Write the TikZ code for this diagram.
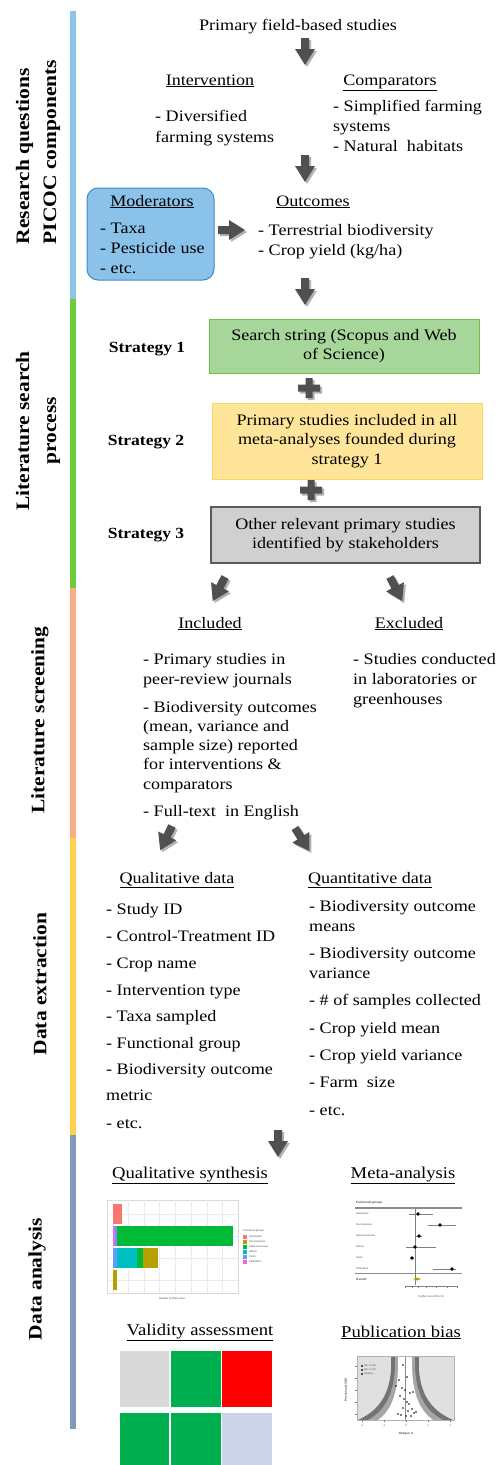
\documentclass[tikz,border=0pt]{standalone}
\usepackage{fontspec}
\setmainfont{Liberation Serif}[FakeStretch=1.13]
\setsansfont{Liberation Sans}
\usetikzlibrary{shadows}
\definecolor{barA}{HTML}{8FC4EA}
\definecolor{barB}{HTML}{6CCC3E}
\definecolor{barC}{HTML}{F8AE86}
\definecolor{barD}{HTML}{FFD24E}
\definecolor{barE}{HTML}{7F9BB8}
\definecolor{modfill}{HTML}{8BC2EA}
\definecolor{moddraw}{HTML}{3F8BCB}
\definecolor{gfill}{HTML}{A7D69B}
\definecolor{gdraw}{HTML}{6CBF47}
\definecolor{yfill}{HTML}{FFE59A}
\definecolor{ydraw}{HTML}{FFD55E}
\definecolor{kfill}{HTML}{D0D0D0}
\definecolor{kdraw}{HTML}{5A5A5A}
\definecolor{arrgray}{HTML}{505050}
\definecolor{ggred}{HTML}{F8766D}
\definecolor{ggolive}{HTML}{B79F00}
\definecolor{gggreen}{HTML}{00BA38}
\definecolor{ggcyan}{HTML}{00BFC4}
\definecolor{ggblue}{HTML}{619CFF}
\definecolor{ggmag}{HTML}{F564E3}
\definecolor{vgrey}{HTML}{D9D9D9}
\definecolor{vgreen}{HTML}{00B050}
\definecolor{vred}{HTML}{FF0000}
\definecolor{vlav}{HTML}{CDD3E8}
\tikzset{
  txt/.style={anchor=base west, inner sep=0pt, font=\fontsize{16}{17}\selectfont},
  ctxt/.style={anchor=base, inner sep=0pt, font=\fontsize{16}{17}\selectfont},
  bighead/.style={anchor=base, inner sep=0pt, font=\fontsize{16.5}{18}\selectfont},
  strat/.style={anchor=base, inner sep=0pt, font=\bfseries\fontsize{15.5}{17}\selectfont},
  boxtxt/.style={align=center, inner sep=0pt, font=\fontsize{16}{19.5}\selectfont},
  side/.style={rotate=90, inner sep=0pt, font=\bfseries\fontsize{19}{27}\selectfont},
  tinytxt/.style={inner sep=0pt, font=\sffamily\fontsize{2.6}{3}\selectfont, text=black!70},
  arr/.style={fill=arrgray, drop shadow={shadow xshift=2pt, shadow yshift=-2pt, opacity=0.3, fill=black}},
  downarr/.pic={\path[arr] (-4,0) -- (-4,11) -- (-10,11) -- (0,27) -- (10,11) -- (4,11) -- (4,0) -- cycle;},
  plussign/.pic={\path[arr] (-3.5,-10) -- (3.5,-10) -- (3.5,-3.5) -- (11,-3.5) -- (11,3.5) -- (3.5,3.5) -- (3.5,10) -- (-3.5,10) -- (-3.5,3.5) -- (-11,3.5) -- (-11,-3.5) -- (-3.5,-3.5) -- cycle;}
}
\begin{document}
\begin{tikzpicture}[x=1pt,y=-1pt]
\useasboundingbox[fill=white] (0,0) rectangle (501,1465);
% side bars
\fill[barA] (70,11) rectangle (76,299);
\fill[barB] (70,299) rectangle (76,588);
\fill[barC] (70,588) rectangle (76,838);
\fill[barD] (70,838) rectangle (76,1135);
\fill[barE] (70,1135) rectangle (76,1429);
\node[side, align=left] (lab1) at (38,152) {Research questions\\PICOC components};
\node[side, align=center] (lab2) at (38,431) {Literature search\\process};
\node[side] (lab3) at (40,720) {Literature screening};
\node[side] (lab4) at (40,984) {Data extraction};
\node[side] (lab5) at (37,1279) {Data analysis};
% research questions
\node[ctxt] (primary) at (298,30) {Primary field-based studies};
\pic at (305,38) {downarr};
\node[ctxt] (interv) at (210,85) {\underline{Intervention}};
\node[ctxt] (compar) at (390,85) {\underline{Comparators}};
\node[txt] (int1) at (155,121) {- Diversified};
\node[txt] (int2) at (155,142) {farming systems};
\node[txt] (cmp1) at (333,111) {- Simplified farming};
\node[txt] (cmp2) at (333,131) {systems};
\node[txt] (cmp3) at (333,151) {- Natural\ \ habitats};
\pic at (305,155) {downarr};
\node[draw=moddraw, fill=modfill, line width=1pt, rounded corners=11pt, minimum width=127pt, minimum height=92pt] (mod) at (150.5,234) {};
\node[ctxt] (modh) at (152,206) {\underline{Moderators}};
\node[txt] (mod1) at (100,233) {- Taxa};
\node[txt] (mod2) at (100,253) {- Pesticide use};
\node[txt] (mod3) at (100,273) {- etc.};
\pic[rotate=90] at (218,230) {downarr};
\node[ctxt] (outc) at (313,206) {\underline{Outcomes}};
\node[txt] (out1) at (258,235) {- Terrestrial biodiversity};
\node[txt] (out2) at (258,255) {- Crop yield (kg/ha)};
\pic at (305,278) {downarr};
% literature search
\node[boxtxt, draw=gdraw, fill=gfill, line width=1pt, minimum width=270pt, minimum height=54pt] (s1) at (344,346) {Search string (Scopus and Web\\of Science)};
\node[strat] (st1) at (147,352) {Strategy 1};
\pic at (309,388) {plussign};
\node[boxtxt, draw=ydraw, fill=yfill, line width=1pt, minimum width=270pt, minimum height=76pt] (s2) at (347,441) {Primary studies included in all\\meta-analyses founded during\\strategy 1};
\node[strat] (st2) at (146,445) {Strategy 2};
\pic at (311,490) {plussign};
\node[boxtxt, draw=kdraw, fill=kfill, line width=1.3pt, minimum width=269pt, minimum height=56pt] (s3) at (345.5,535) {Other relevant primary studies\\identified by stakeholders};
\node[strat] (st3) at (146,538) {Strategy 3};
\pic[rotate=-27] at (225,577) {downarr};
\pic[rotate=27] at (390,577) {downarr};
% screening
\node[ctxt] (incl) at (210,628) {\underline{Included}};
\node[ctxt] (excl) at (409,628) {\underline{Excluded}};
\node[txt] (i1) at (143,664) {- Primary studies in};
\node[txt] (i2) at (143,684) {peer-review journals};
\node[txt] (i3) at (143,712) {- Biodiversity outcomes};
\node[txt] (i4) at (143,731) {(mean, variance and};
\node[txt] (i5) at (143,750) {sample size) reported};
\node[txt] (i6) at (143,769) {for interventions \&};
\node[txt] (i7) at (143,789) {comparators};
\node[txt] (i8) at (143,816) {- Full-text\ \ in English};
\node[txt] (e1) at (353,664) {- Studies conducted};
\node[txt] (e2) at (353,684) {in laboratories or};
\node[txt] (e3) at (353,704) {greenhouses};
\pic[rotate=-26] at (172,826) {downarr};
\pic[rotate=32] at (295,828) {downarr};
% extraction
\node[ctxt] (qual) at (177,883) {\underline{Qualitative data}};
\node[ctxt] (quan) at (370,883) {\underline{Quantitative data}};
\node[txt] (q1) at (106,914) {- Study ID};
\node[txt] (q2) at (106,941) {- Control-Treatment ID};
\node[txt] (q3) at (106,968) {- Crop name};
\node[txt] (q4) at (106,995) {- Intervention type};
\node[txt] (q5) at (106,1021) {- Taxa sampled};
\node[txt] (q6) at (106,1048) {- Functional group};
\node[txt] (q7) at (106,1074) {- Biodiversity outcome};
\node[txt] (q8) at (106,1100) {metric};
\node[txt] (q9) at (106,1128) {- etc.};
\node[txt] (n1) at (309,911) {- Biodiversity outcome};
\node[txt] (n2) at (309,931) {means};
\node[txt] (n3) at (309,958) {- Biodiversity outcome};
\node[txt] (n4) at (309,978) {variance};
\node[txt] (n5) at (309,1005) {- \# of samples collected};
\node[txt] (n6) at (309,1033) {- Crop yield mean};
\node[txt] (n7) at (309,1060) {- Crop yield variance};
\node[txt] (n8) at (309,1087) {- Farm\ \ size};
\node[txt] (n9) at (309,1115) {- etc.};
\pic at (278,1130) {downarr};
% analysis headings
\node[bighead] (h1) at (190,1178) {\underline{Qualitative synthesis}};
\node[bighead] (h2) at (403,1178) {\underline{Meta-analysis}};
\node[bighead] (h3) at (200,1335) {\underline{Validity assessment}};
\node[bighead] (h4) at (401,1337) {\underline{Publication bias}};
% bar chart
\draw[black!15, fill=white] (107,1200) rectangle (238,1293);
\foreach \gx in {113,128.5,144,159.5,175,191,207,222.5} \draw[black!8, line width=0.4pt] (\gx,1200) -- (\gx,1293);
\foreach \gy in {1214,1236,1258,1280} \draw[black!8, line width=0.4pt] (107,\gy) -- (238,\gy);
\fill[ggred] (113,1204) rectangle (122,1224);
\fill[ggmag] (113,1226) rectangle (114.5,1246);
\fill[ggblue] (114.5,1226) rectangle (117,1246);
\fill[gggreen] (117,1226) rectangle (233,1246);
\fill[ggblue] (113,1248) rectangle (117,1268);
\fill[ggcyan] (117,1248) rectangle (137,1268);
\fill[gggreen] (137,1248) rectangle (143,1268);
\fill[ggolive] (143,1248) rectangle (158,1268);
\fill[ggolive] (113,1270) rectangle (117,1290);
\node[tinytxt, anchor=west] (lgt) at (243,1231) {Functional groups};
\foreach \c/\t [count=\i] in {ggred/Autotrophs, ggolive/Decomposers, gggreen/Natural enemies, ggcyan/Others, ggblue/Pests, ggmag/Pollinators}{
  \fill[\c] (243,1230+5*\i) rectangle (247,1234+5*\i);
  \node[tinytxt, anchor=west] at (249,1232+5*\i) {\t};
}
\node[tinytxt] (xlab) at (172,1299) {Number of effect sizes};
% forest plot
\node[tinytxt, anchor=west, font=\sffamily\bfseries\fontsize{3}{3}\selectfont] (fg) at (356,1203) {Functional groups};
\draw[black!45, line width=1.1pt] (355,1208) -- (462,1208);
\draw[black!45, line width=1pt] (355,1273) -- (462,1273);
\draw[black!50, line width=0.3pt] (415,1209) -- (415,1285);
\foreach \lab/\yy/\lo/\pt/\hi in {Autotrophs/1214/409/418/433, Decomposers/1225/428/440/456, Natural enemies/1236/416/419/422, Others/1247/406/415/436, Pests/1258/410/412/414, Pollinators/1269/433/452/456}{
  \node[tinytxt, anchor=west] at (356,\yy) {\lab};
  \draw[black!50, line width=0.3pt] (\lo,\yy) -- (\hi,\yy);
  \fill[black] (\pt,\yy) circle (1.8pt);
}
\node[tinytxt, anchor=west, font=\sffamily\bfseries\fontsize{3}{3}\selectfont] (ov) at (356,1279) {Overall};
\fill[ggolive] (413,1279) -- (417,1277.5) -- (421,1279) -- (417,1280.5) -- cycle;
\draw[black!50, line width=0.3pt] (405,1286) -- (458,1286);
\foreach \tx in {405,412,418,426,436,447,457} \draw[black!50, line width=0.3pt] (\tx,1286) -- (\tx,1288);
\node[tinytxt] (fxl) at (431,1297) {\% Effect size (95\% CI)};
% validity grid
\fill[vgrey] (120,1351) rectangle (169,1407);
\fill[vgreen] (171,1351) rectangle (221,1407);
\fill[vred] (222,1351) rectangle (272,1407);
\fill[vgreen] (120,1413) rectangle (169,1465);
\fill[vgreen] (171,1413) rectangle (221,1465);
\fill[vlav] (222,1413) rectangle (272,1465);
% funnel plot
\begin{scope}
\clip (357,1356) rectangle (454,1420);
\fill[black!12] (357,1356) rectangle (454,1420);
\fill[black!55] (391,1356) .. controls (393,1392) and (380,1410) .. (358,1420) -- (453,1420) .. controls (430,1410) and (417,1392) .. (419,1356) -- cycle;
\fill[black!35] (395,1356) .. controls (396,1392) and (386,1410) .. (368,1420) -- (443,1420) .. controls (424,1410) and (414,1392) .. (415,1356) -- cycle;
\fill[white] (398,1356) .. controls (399,1392) and (392,1410) .. (378,1420) -- (433,1420) .. controls (419,1410) and (411,1392) .. (412,1356) -- cycle;
\draw[black!45, line width=0.8pt] (405,1356) -- (405,1420);
\foreach \px/\py in {403/1365,407/1377,399/1380,402/1388,405/1390,410/1393,413/1392,400/1396,404/1399,407/1402,409/1404,403/1408,408/1411,412/1409,414/1413,398/1414,401/1415,406/1416,411/1416,416/1412,396/1386}
  \fill[black] (\px,\py) circle (0.9pt);
\end{scope}
\draw[black!30] (357,1356) rectangle (454,1420);
\foreach \ly in {1366,1370,1374}{\fill[black!70] (361,\ly-1) rectangle (363,\ly+1);}
\node[tinytxt, anchor=west] at (364,1366) {SE < 0.05};
\node[tinytxt, anchor=west] at (364,1370) {SE < 0.10};
\node[tinytxt, anchor=west] at (364,1374) {Studies};
\foreach \tx/\tl in {362/-2,384/-1,406/0,428/1,450/2}{
  \draw[black!50, line width=0.3pt] (\tx,1420) -- (\tx,1422);
  \node[tinytxt] at (\tx,1426) {\tl};
}
\foreach \ty in {1366,1378,1390,1402,1414} \draw[black!50, line width=0.3pt] (355,\ty) -- (357,\ty);
\node[tinytxt, font=\sffamily\bfseries\fontsize{3}{3}\selectfont] (fxt) at (406,1434) {Hedges' d};
\node[tinytxt, rotate=90, font=\sffamily\bfseries\fontsize{3}{3}\selectfont] (fyt) at (346,1390) {Precision (1/SE)};
\end{tikzpicture}
\end{document}
